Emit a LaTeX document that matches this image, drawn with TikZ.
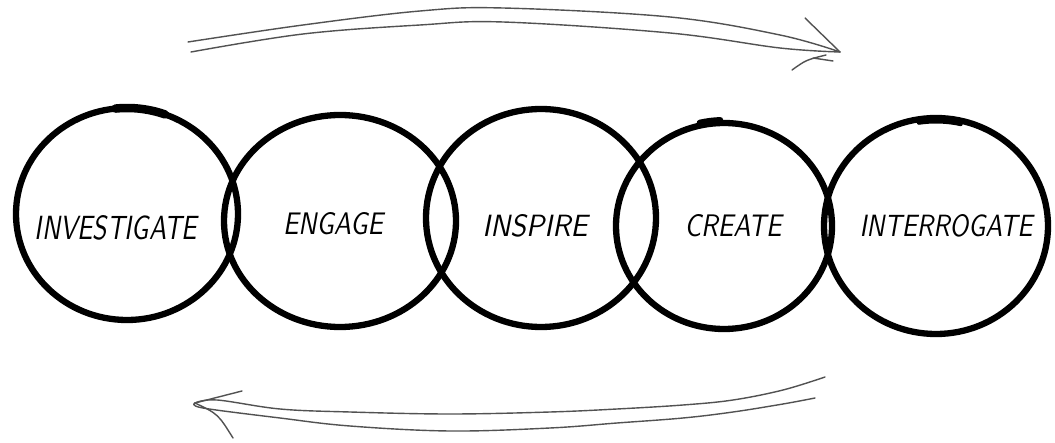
\documentclass[tikz,border=0pt]{standalone}
\usepackage{graphicx}
\usetikzlibrary{shapes.geometric}
\begin{document}
\begin{tikzpicture}[x=1pt,y=-1pt,
  ring/.style={draw=black, line width=6.3pt, ellipse, inner sep=0pt, outer sep=0pt},
  lbl/.style={inner sep=0pt, font=\sffamily\slshape},
  sketch/.style={draw=black!68, line width=1.4pt, line cap=round, line join=round},
  blob/.style={draw=black, line width=8.5pt, line cap=round}]
\useasboundingbox (0,0) rectangle (1055,443);
\fill[white] (0,0) rectangle (1055,443);

% circles
\node[ring, minimum width=222pt, minimum height=212pt] (c1) at (127,214) {};
\node[ring, minimum width=232pt, minimum height=212pt] (c2) at (340,221) {};
\node[ring, minimum width=230pt, minimum height=218pt] (c3) at (541,218) {};
\node[ring, minimum width=216pt, minimum height=206pt] (c4) at (724,226) {};
\node[ring, minimum width=224pt, minimum height=216pt] (c5) at (936,226) {};

% hand-drawn overlaps
\draw[blob] (c1.center) ++(264:111 and 106) arc[start angle=264, end angle=290, x radius=111, y radius=106];
\draw[blob, line width=6pt] (c4.center) ++(257:108 and 106) arc[start angle=257, end angle=268, x radius=108, y radius=106];
\draw[black, line width=4pt, line cap=round] (c5.center) ++(261:110 and 104.5) arc[start angle=261, end angle=283, x radius=110, y radius=104.5];

% labels
\node[lbl] (t1) at (116,228) {\resizebox{162pt}{24pt}{INVESTIGATE}};
\node[lbl] (t2) at (333,224) {\resizebox{100pt}{22pt}{ENGAGE}};
\node[lbl] (t3) at (535,226) {\resizebox{105pt}{22pt}{INSPIRE}};
\node[lbl] (t4) at (733,226) {\resizebox{97pt}{22pt}{CREATE}};
\node[lbl] (t5) at (946,226) {\resizebox{173pt}{22pt}{INTERROGATE}};

% top arrow
\coordinate (ta) at (188,42);
\coordinate (tb) at (191,52);
\coordinate (ttip) at (840,52);
\coordinate (tbarbA) at (805,18);
\coordinate (tbarbS) at (826,55);
\coordinate (tbarbB) at (792,70);
\coordinate (tstrA) at (813,58);
\coordinate (tstrB) at (833,61);
\draw[sketch] plot[smooth, tension=0.6] coordinates {(ta) (303,25) (420,11) (503,8) (670,17) (780,35) (ttip)};
\draw[sketch] plot[smooth, tension=0.6] coordinates {(tb) (303,34) (420,25) (503,22) (670,33) (780,48) (ttip)};
\draw[sketch] (ttip) -- (tbarbA);
\draw[sketch] (tbarbS) .. controls (806,60) .. (tbarbB);
\draw[sketch] (tstrA) -- (tstrB);

% bottom arrow
\coordinate (ba) at (825,377);
\coordinate (bb) at (815,398);
\coordinate (btip) at (195,403);
\coordinate (bbarbA) at (242,391);
\coordinate (bbarbB) at (233,438);
\draw[sketch] plot[smooth, tension=0.6] coordinates {(ba) (783,390) (733,400) (683,405) (617,409) (550,412) (450,414) (350,412) (280,409) (217,400) (btip)};
\draw[sketch] plot[smooth, tension=0.6] coordinates {(bb) (783,404) (733,412) (683,418) (617,423) (550,428) (450,431) (350,426) (280,418) (203,408) (btip)};
\draw[sketch] (btip) -- (bbarbA);
\draw[sketch] (btip) .. controls (218,414) .. (bbarbB);
\end{tikzpicture}
\end{document}
